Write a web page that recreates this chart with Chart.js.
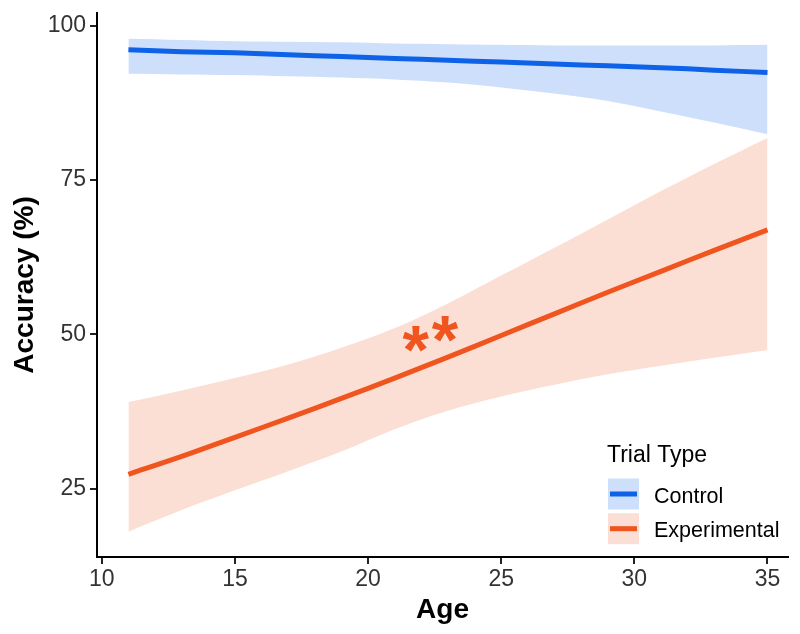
<!DOCTYPE html>
<html>
<head>
<meta charset="utf-8">
<script src="https://cdn.jsdelivr.net/npm/chart.js@4"></script>
<style>
  html, body { margin: 0; padding: 0; background: #fff; }
  #wrap { width: 800px; height: 634px; }
</style>
</head>
<body>
<div id="wrap"><canvas id="acc-chart" width="800" height="634"></canvas></div>
<script>
const ages = [11, 13, 15, 17, 19, 21, 23, 25, 27, 29, 31, 33, 35];

// Control trials: fit and confidence band
const controlFit   = [96.1, 95.8, 95.6, 95.3, 95.0, 94.7, 94.4, 94.1, 93.8, 93.5, 93.2, 92.8, 92.4];
const controlUpper = [97.9, 97.7, 97.5, 97.4, 97.3, 97.1, 97.0, 96.9, 96.8, 96.8, 96.8, 96.8, 96.9];
const controlLower = [92.2, 92.1, 92.0, 91.8, 91.6, 91.3, 90.8, 90.0, 89.0, 87.8, 86.1, 84.3, 82.4];

// Experimental trials: fit and confidence band
const expFit   = [27.3, 30.2, 33.3, 36.4, 39.6, 42.9, 46.3, 49.8, 53.3, 56.8, 60.2, 63.6, 66.9];
const expUpper = [39.0, 40.9, 42.9, 45.1, 47.8, 51.0, 55.0, 59.5, 64.0, 68.6, 73.2, 77.6, 81.8];
const expLower = [18.0, 21.5, 24.7, 27.8, 31.0, 34.6, 37.6, 39.9, 41.8, 43.5, 44.9, 46.2, 47.4];

// significance marks (age, accuracy)
const starAges = [21.8, 22.9];
const starVals = [49.2, 50.8];

const xTicks = [10, 15, 20, 25, 30, 35];
const yTicks = [25, 50, 75, 100];

const legendTitle = 'Trial Type';
const seriesNames = ['Control', 'Experimental'];
const lineColors = ['#0D62E8', '#F0541F'];
const bandColors = ['#CDDFFB', '#FCDFD4'];

const FONT = '"Liberation Sans", Arial, sans-serif';

function pts(ys) {
    return ages.map((a, i) => ({x: a, y: ys[i]}));
}

const starPlugin = {
    id: 'stars',
    afterDatasetsDraw(chart) {
        const ctx = chart.ctx;
        const xs = chart.scales.x, ys = chart.scales.y;
        ctx.save();
        ctx.fillStyle = lineColors[1];
        ctx.font = 'bold 68px ' + FONT;
        ctx.textAlign = 'left';
        ctx.textBaseline = 'alphabetic';
        starAges.forEach((a, i) => {
            const m = ctx.measureText('*');
            const w = m.actualBoundingBoxRight + m.actualBoundingBoxLeft;
            const h = m.actualBoundingBoxAscent + m.actualBoundingBoxDescent;
            const px = xs.getPixelForValue(a);
            const py = ys.getPixelForValue(starVals[i]);
            ctx.fillText('*', px - w / 2 + m.actualBoundingBoxLeft, py + h / 2 - m.actualBoundingBoxDescent);
        });
        ctx.restore();
    }
};

const legendPlugin = {
    id: 'trialLegend',
    afterDraw(chart) {
        const ctx = chart.ctx;
        ctx.save();
        ctx.fillStyle = '#000';
        ctx.textAlign = 'left';
        ctx.textBaseline = 'alphabetic';
        ctx.font = '23px ' + FONT;
        ctx.fillText(legendTitle, 607, 461.5);
        ctx.font = '21.5px ' + FONT;
        seriesNames.forEach((name, i) => {
            const y0 = 478.5 + i * 34.7;
            ctx.fillStyle = bandColors[i];
            ctx.fillRect(608, y0, 31, 31);
            ctx.fillStyle = lineColors[i];
            ctx.fillRect(610, y0 + 13, 27, 5);
            ctx.fillStyle = '#000';
            ctx.fillText(name, 654, y0 + 24);
        });
        ctx.restore();
    }
};

function lineSet(label, data, color) {
    return {
        label: label, data: pts(data), borderColor: color, borderWidth: 5,
        borderCapStyle: 'butt', pointRadius: 0, fill: false, tension: 0.35
    };
}

function bandSet(label, data, color, fill) {
    return {
        label: label, data: pts(data), borderWidth: 0, borderColor: 'rgba(0,0,0,0)',
        backgroundColor: color, pointRadius: 0, fill: fill, tension: 0.35
    };
}

new Chart(document.getElementById('acc-chart'), {
    type: 'line',
    data: {
        datasets: [
            lineSet('Control', controlFit, lineColors[0]),
            lineSet('Experimental', expFit, lineColors[1]),
            bandSet('ctrl upper', controlUpper, bandColors[0], '+1'),
            bandSet('ctrl lower', controlLower, bandColors[0], false),
            bandSet('exp upper', expUpper, bandColors[1], '+1'),
            bandSet('exp lower', expLower, bandColors[1], false)
        ]
    },
    options: {
        responsive: false,
        animation: false,
        devicePixelRatio: 1,
        layout: {padding: {left: 0, right: 12, top: 13, bottom: 0}},
        plugins: {
            legend: {display: false},
            tooltip: {enabled: false}
        },
        scales: {
            x: {
                type: 'linear',
                min: 9.82,
                max: 35.77,
                afterBuildTicks: s => { s.ticks = xTicks.map(v => ({value: v})); },
                afterFit: s => { s.height = 77; s.paddingLeft = 0; s.paddingRight = 0; },
                border: {display: true, color: '#000', width: 2},
                grid: {drawOnChartArea: false, drawTicks: true, tickLength: 7, tickColor: '#222', lineWidth: 2},
                ticks: {color: '#333', font: {family: FONT, size: 23}, padding: 2, maxRotation: 0},
                title: {display: true, text: 'Age', color: '#000', font: {family: FONT, size: 28, weight: 'bold'}, padding: {top: 0, bottom: 7}}
            },
            y: {
                min: 13.9,
                max: 102.06,
                afterBuildTicks: s => { s.ticks = yTicks.map(v => ({value: v})); },
                afterFit: s => { s.width = 97; s.paddingTop = 0; s.paddingBottom = 0; },
                border: {display: true, color: '#000', width: 2},
                grid: {drawOnChartArea: false, drawTicks: true, tickLength: 7, tickColor: '#222', lineWidth: 2},
                ticks: {color: '#333', font: {family: FONT, size: 23}, padding: 4},
                title: {display: true, text: 'Accuracy (%)', color: '#000', font: {family: FONT, size: 28, weight: 'bold'}, padding: {top: 8, bottom: 0}}
            }
        }
    },
    plugins: [starPlugin, legendPlugin]
});
</script>
</body>
</html>
